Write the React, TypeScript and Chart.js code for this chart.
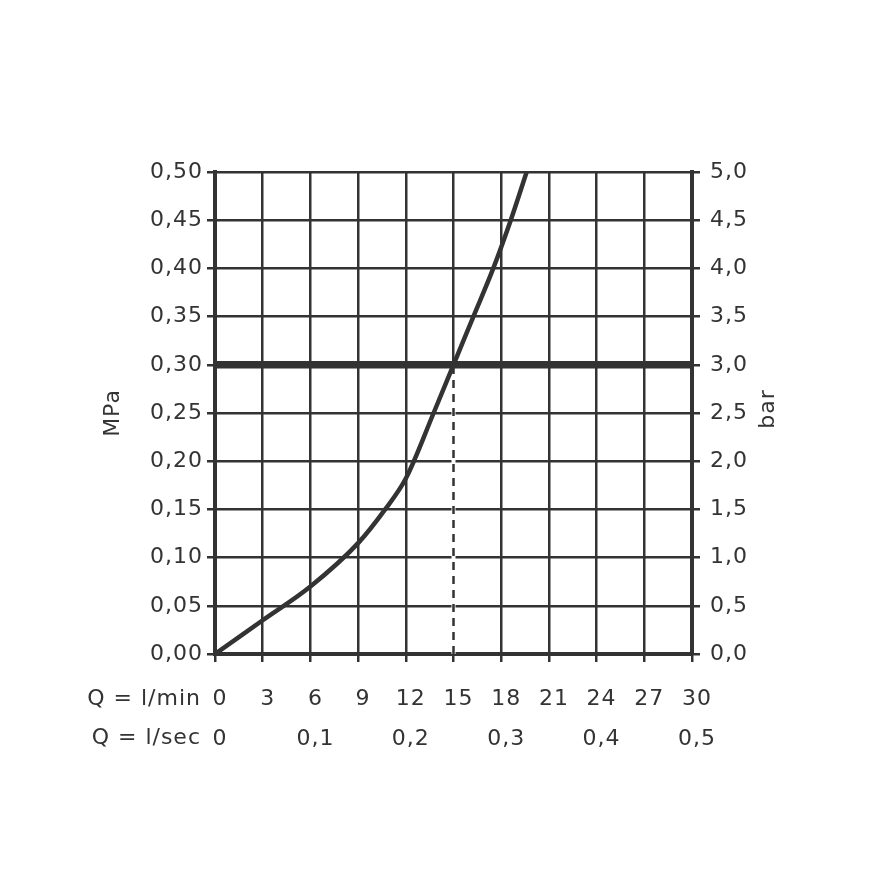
import React, { useEffect, useRef } from 'react';
import { Chart, registerables } from 'chart.js';

Chart.register(...registerables);

// Flow (l/min) vs pressure (MPa) curve
const flowLpm = [0, 3, 6, 9, 10.7, 12, 13.75, 15, 16.25, 17.5, 18.6, 19.6];
const pressureMPa = [0, 0.035, 0.07, 0.115, 0.15, 0.182, 0.25, 0.3, 0.35, 0.4, 0.45, 0.5];

// Thick reference line at 0.30 MPa and dashed drop line at 15 l/min
const refLineX = [0, 30];
const refLineY = [0.3, 0.3];
const dropLineX = [15, 15];
const dropLineY = [0, 0.3];

// Tick values
const mpaTicks = [0, 0.05, 0.1, 0.15, 0.2, 0.25, 0.3, 0.35, 0.4, 0.45, 0.5];
const barTicks = [0, 0.5, 1, 1.5, 2, 2.5, 3, 3.5, 4, 4.5, 5];
const lminTicks = [0, 3, 6, 9, 12, 15, 18, 21, 24, 27, 30];
const lsecTicks = [0, 0.1, 0.2, 0.3, 0.4, 0.5];

const leftTitle = 'MPa';
const rightTitle = 'bar';
const rowCaptions = ['Q = l/min', 'Q = l/sec'];

const INK = '#333333';
const FONT_FAMILY = '"DejaVu Sans", sans-serif';
const FONT_SIZE = 22;

const pts = (xs: number[], ys: number[]) => xs.map((x, i) => ({ x, y: ys[i] }));
const comma = (s: string) => s.replace('.', ',');

const spacingPlugin = {
  id: 'spacing',
  beforeDraw(chart: any) {
    try {
      (chart.ctx as any).letterSpacing = '1px';
    } catch (e) {}
  },
};

const captionPlugin = {
  id: 'captions',
  afterDraw(chart: any) {
    const { ctx, chartArea, scales } = chart;
    ctx.save();
    ctx.fillStyle = INK;
    ctx.font = `${FONT_SIZE}px ${FONT_FAMILY}`;
    ctx.textAlign = 'right';
    ctx.textBaseline = 'middle';
    const x0 = scales.x.getPixelForValue(0) - 14;
    ctx.fillText(rowCaptions[0], x0, scales.x.top + 45);
    ctx.fillText(rowCaptions[1], x0, scales.x2.top + 24);
    ctx.translate(chartArea.right + 76, (chartArea.top + chartArea.bottom) / 2 - 4);
    ctx.rotate(-Math.PI / 2);
    ctx.textAlign = 'center';
    ctx.fillText(rightTitle, 0, 0);
    ctx.restore();
  },
};

export default function App() {
  const ref = useRef<HTMLCanvasElement | null>(null);

  useEffect(() => {
    if (!ref.current) return;
    const font = { family: FONT_FAMILY, size: FONT_SIZE };
    const grid = { color: INK, lineWidth: 2.5, tickLength: 8, tickWidth: 2.5 };
    const border = { display: true, color: INK, width: 4 };

    const chart = new Chart(ref.current, {
      type: 'line',
      data: {
        datasets: [
          {
            data: pts(flowLpm, pressureMPa),
            borderColor: INK,
            borderWidth: 4.5,
            cubicInterpolationMode: 'monotone',
            pointRadius: 0,
            order: 0,
          },
          {
            data: pts(refLineX, refLineY),
            borderColor: INK,
            borderWidth: 7.5,
            pointRadius: 0,
            order: 1,
          },
          {
            data: pts(dropLineX, dropLineY),
            borderColor: '#ffffff',
            borderWidth: 4,
            pointRadius: 0,
            order: 3,
          },
          {
            data: pts(dropLineX, dropLineY),
            borderColor: INK,
            borderWidth: 2.5,
            borderDash: [8, 6],
            pointRadius: 0,
            order: 2,
          },
        ],
      },
      options: {
        responsive: false,
        animation: false,
        events: [],
        layout: { padding: { top: 172, left: 0, right: 0, bottom: 0 } },
        plugins: { legend: { display: false }, tooltip: { enabled: false } },
        scales: {
          x: {
            type: 'linear',
            position: 'bottom',
            weight: 1,
            min: 0,
            max: 30,
            grid,
            border,
            afterBuildTicks: (s: any) => {
              s.ticks = lminTicks.map((v) => ({ value: v }));
            },
            afterFit: (s: any) => {
              s.height = 60;
            },
            ticks: {
              font,
              color: INK,
              padding: 24,
              labelOffset: 5,
              maxRotation: 0,
              autoSkip: false,
              callback: (v: any) => String(v),
            },
          },
          x2: {
            type: 'linear',
            position: 'bottom',
            weight: 2,
            min: 0,
            max: 0.5,
            grid: { display: false },
            border: { display: false },
            afterBuildTicks: (s: any) => {
              s.ticks = lsecTicks.map((v) => ({ value: v }));
            },
            afterFit: (s: any) => {
              s.height = 169;
            },
            ticks: {
              font,
              color: INK,
              padding: 4,
              labelOffset: 5,
              maxRotation: 0,
              autoSkip: false,
              callback: (v: any) => (v === 0 ? '0' : comma(String(v))),
            },
          },
          y: {
            type: 'linear',
            position: 'left',
            z: 1,
            min: 0,
            max: 0.5,
            grid,
            border,
            afterBuildTicks: (s: any) => {
              s.ticks = mpaTicks.map((v) => ({ value: v }));
            },
            afterFit: (s: any) => {
              s.width = 215;
            },
            title: {
              display: true,
              text: leftTitle,
              font,
              color: INK,
              padding: { top: 100, bottom: 0 },
            },
            ticks: {
              font,
              color: INK,
              padding: 4,
              callback: (v: any) => comma(Number(v).toFixed(2)),
            },
          },
          y2: {
            type: 'linear',
            position: 'right',
            min: 0,
            max: 5,
            grid: { ...grid, drawOnChartArea: false },
            border,
            afterBuildTicks: (s: any) => {
              s.ticks = barTicks.map((v) => ({ value: v }));
            },
            afterFit: (s: any) => {
              s.width = 191;
            },
            ticks: {
              font,
              color: INK,
              padding: 10,
              callback: (v: any) => comma(Number(v).toFixed(1)),
            },
          },
        },
      } as any,
      plugins: [spacingPlugin, captionPlugin],
    });
    return () => chart.destroy();
  }, []);

  return (
    <div style={{ position: 'absolute', left: 0, top: 0, width: 883, height: 883, background: '#fff' }}>
      <canvas ref={ref} width={883} height={883} style={{ width: 883, height: 883 }} />
    </div>
  );
}
